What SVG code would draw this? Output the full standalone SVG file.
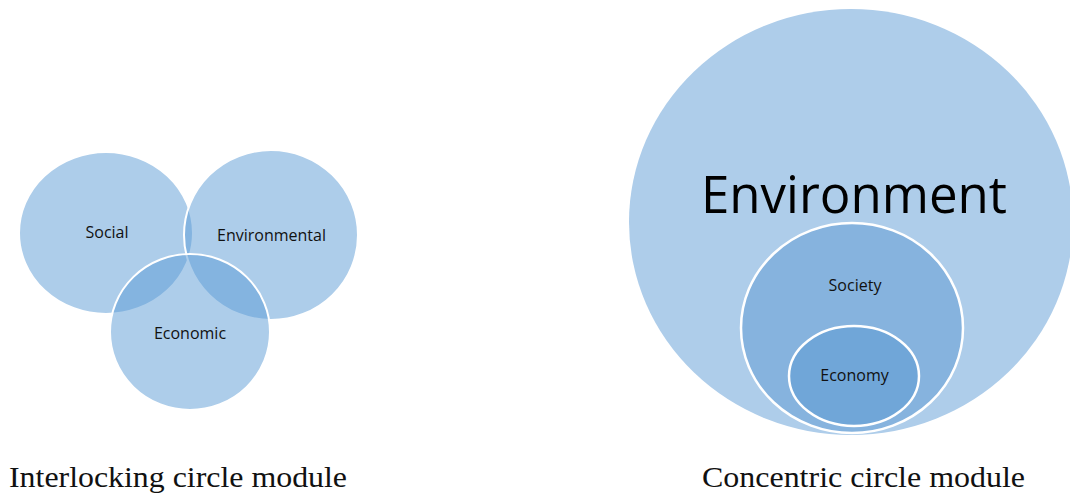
<svg xmlns="http://www.w3.org/2000/svg" width="1070" height="495" viewBox="0 0 1070 495">
  <style>
    .venn { fill: #5b9bd5; fill-opacity: 0.5; stroke: #ffffff; stroke-width: 2; }
    .outer { fill: #aecdea; }
    .mid { fill: #86b3de; stroke: #ffffff; stroke-width: 2.5; }
    .inner { fill: #70a6d8; stroke: #ffffff; stroke-width: 2.5; }
    .lbl { font-family: "Open Sans", "Noto Sans", sans-serif; font-size: 16px; fill: #111111; text-anchor: middle; }
    .big { font-family: "Open Sans", "Noto Sans", sans-serif; font-size: 51px; fill: #000000; text-anchor: middle; }
    .cap { font-size: 30px; fill: #111111; }
  </style>

  <!-- Interlocking circles -->
  <g id="social">
    <ellipse class="venn" cx="106" cy="233" rx="87" ry="81"/>
  </g>
  <g id="environmental">
    <ellipse class="venn" cx="271" cy="235" rx="87" ry="85"/>
  </g>
  <g id="economic">
    <ellipse class="venn" cx="190" cy="332" rx="80" ry="78"/>
  </g>
  <g id="venn-labels">
    <text class="lbl" x="107" y="238">Social</text>
    <text class="lbl" x="271.5" y="241">Environmental</text>
    <text class="lbl" x="190" y="339">Economic</text>
  </g>

  <!-- Concentric circles -->
  <g id="environment">
    <ellipse class="outer" cx="851" cy="222" rx="222" ry="213"/>
    <text class="big" x="854" y="213">Environment</text>
  </g>
  <g id="society">
    <ellipse class="mid" cx="852" cy="328" rx="111" ry="105"/>
    <text class="lbl" x="855" y="291">Society</text>
  </g>
  <g id="economy">
    <ellipse class="inner" cx="854" cy="376" rx="65" ry="50"/>
    <text class="lbl" x="854.5" y="381">Economy</text>
  </g>

  <g id="captions" font-family="Liberation Serif, serif">
    <text class="cap" x="9" y="487" textLength="338" lengthAdjust="spacingAndGlyphs">Interlocking circle module</text>
    <text class="cap" x="702" y="487" textLength="323" lengthAdjust="spacingAndGlyphs">Concentric circle module</text>
  </g>
</svg>
